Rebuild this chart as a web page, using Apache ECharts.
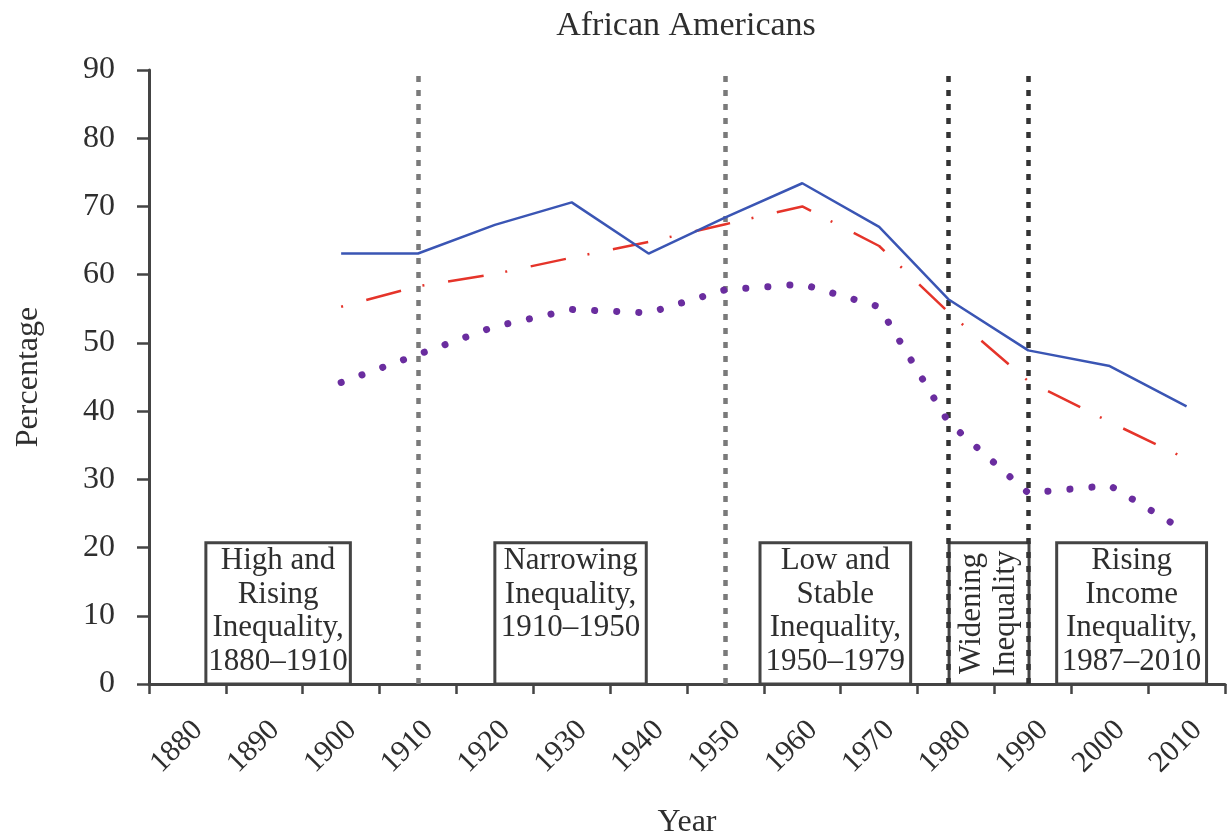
<!DOCTYPE html>
<html>
<head>
<meta charset="utf-8">
<script src="https://cdn.jsdelivr.net/npm/echarts@6/dist/echarts.min.js"></script>
<style>
  html, body { margin: 0; padding: 0; background: #ffffff; }
  #chart { width: 1228px; height: 840px; }
</style>
</head>
<body>
<div id="chart"></div>
<script>
// ---- Data ----
const categoryYears = ['1880', '1890', '1900', '1910', '1920', '1930', '1940', '1950', '1960', '1970', '1980', '1990', '2000', '2010'];
const yTicks = [0, 10, 20, 30, 40, 50, 60, 70, 80, 90];

const pointYears   = [1900, 1910, 1920, 1930, 1940, 1950, 1960, 1970, 1979, 1989.4, 2000, 2010];
const blueValues   = [63.1, 63.1, 67.3, 70.6, 63.1, 68.4, 73.4, 67.0, 56.4, 48.9, 46.6, 40.7];
const redValues    = [55.3, 58.3, 60.1, 62.5, 64.8, 67.4, 70.0, 64.2, 54.5, 44.4, 38.4, 33.0];
const purpleValues = [44.2, 48.3, 52.4, 54.9, 54.4, 57.8, 58.6, 55.3, 38.4, 28.0, 29.1, 22.3];

const boundaryYears = [1910, 1950, 1979, 1989.4];

const periodLabels = [
  'High and\nRising\nInequality,\n1880\u20131910',
  'Narrowing\nInequality,\n1910\u20131950',
  'Low and\nStable\nInequality,\n1950\u20131979',
  'Widening\nInequality',
  'Rising\nIncome\nInequality,\n1987\u20132010'
];
const periodFrom = [1882.4, 1920.0, 1954.5, 1979.1, 1993.1];
const periodTo   = [1901.2, 1939.7, 1974.1, 1989.5, 2012.6];
const periodTop  = 20.7;

// ---- Chart ----
const FONT = 'Liberation Serif';
const TXT = '#2e2e2e';
const AXC = '#444444';

const pairs = vals => pointYears.map((y, i) => [y, vals[i]]);

const markAreaData = periodLabels.map((t, i) => {
  const rotated = i === 3;
  return [
    {
      xAxis: periodFrom[i], yAxis: periodTop,
      label: rotated
        ? { show: true, formatter: t, position: 'inside', rotate: 90, align: 'center', verticalAlign: 'middle',
            fontFamily: FONT, fontSize: 31, lineHeight: 34, color: TXT }
        : { show: true, formatter: t, position: 'insideTop', distance: 3, align: 'center',
            fontFamily: FONT, fontSize: 31, lineHeight: 33.5, color: TXT }
    },
    { xAxis: periodTo[i], yAxis: 0 }
  ];
});

const markLineData = boundaryYears.map((y, i) => ({
  xAxis: y,
  lineStyle: { color: i < 2 ? '#7a7a7a' : '#333333', width: 4.5, type: [6, 8] }
}));

const chart = echarts.init(document.getElementById('chart'), null, { renderer: 'canvas' });

chart.setOption({
  animation: false,
  backgroundColor: '#ffffff',
  title: {
    text: 'African Americans',
    left: 686,
    top: 9,
    textAlign: 'center',
    padding: 0,
    textStyle: { fontFamily: FONT, fontSize: 34, fontWeight: 'normal', color: TXT }
  },
  grid: { left: 149, right: 3, top: 70, bottom: 156, containLabel: false, outerBoundsMode: 'none' },
  xAxis: [
    {
      type: 'category',
      data: categoryYears,
      boundaryGap: true,
      name: 'Year',
      nameLocation: 'middle',
      nameGap: 123,
      nameTextStyle: { fontFamily: FONT, fontSize: 32, color: TXT },
      axisLine: { show: true, lineStyle: { color: AXC, width: 3 } },
      axisTick: { show: true, inside: false, length: 10, alignWithLabel: false, interval: 0, lineStyle: { color: AXC, width: 2.5 } },
      axisLabel: {
        show: true, interval: 0, rotate: 45, margin: 31,
        verticalAlign: 'top', lineHeight: 30,
        fontFamily: FONT, fontSize: 30, color: TXT
      },
      splitLine: { show: false }
    },
    {
      type: 'value',
      min: 1875,
      max: 2015,
      show: false,
      position: 'bottom',
      splitLine: { show: false }
    }
  ],
  yAxis: {
    type: 'value',
    min: yTicks[0],
    max: yTicks[yTicks.length - 1],
    interval: 10,
    name: 'Percentage',
    nameLocation: 'middle',
    nameGap: 104,
    nameTextStyle: { fontFamily: FONT, fontSize: 32, color: TXT },
    axisLine: { show: true, lineStyle: { color: AXC, width: 3 } },
    axisTick: { show: true, inside: false, length: 12, lineStyle: { color: AXC, width: 2.5 } },
    axisLabel: { margin: 34, fontFamily: FONT, fontSize: 32, color: TXT },
    splitLine: { show: false }
  },
  series: [
    {
      name: 'purple',
      type: 'line',
      xAxisIndex: 1,
      data: pairs(purpleValues),
      symbol: 'none',
      z: 3,
      lineStyle: { color: '#6a2d9f', width: 7, type: [0.1, 22], cap: 'round' },
      markLine: {
        silent: true,
        symbol: 'none',
        label: { show: false },
        z: 2,
        data: markLineData
      },
      markArea: {
        silent: true,
        z: 2,
        itemStyle: { color: '#ffffff', borderColor: '#444444', borderWidth: 3 },
        data: markAreaData
      }
    },
    {
      name: 'red',
      type: 'line',
      xAxisIndex: 1,
      data: pairs(redValues),
      symbol: 'none',
      z: 4,
      lineStyle: { color: '#e5342a', width: 2.5, type: [2, 24, 36, 22], dashOffset: 0 }
    },
    {
      name: 'blue',
      type: 'line',
      xAxisIndex: 1,
      data: pairs(blueValues),
      symbol: 'none',
      z: 5,
      lineStyle: { color: '#3a55b4', width: 2.5 }
    }
  ]
});
</script>
</body>
</html>
